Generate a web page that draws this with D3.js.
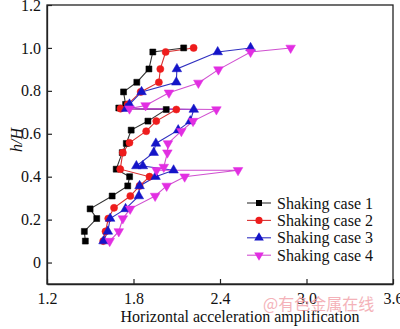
<!DOCTYPE html>
<html><head><meta charset="utf-8">
<script src="https://cdn.jsdelivr.net/npm/d3@7"></script>
<style>body{margin:0;background:#fff}svg{display:block}</style>
</head><body>
<svg id="c" width="400" height="329"></svg>
<script>
const seriesNames = ["Shaking case 1","Shaking case 2","Shaking case 3","Shaking case 4"];
const h1 = [1.0,0.981,0.902,0.84,0.795,0.737,0.72,0.713,0.659,0.617,0.555,0.512,0.435,0.40,0.357,0.31,0.25,0.205,0.145,0.10];
const x1 = [2.148,1.934,1.907,1.823,1.731,1.745,1.698,2.027,1.900,1.784,1.75,1.722,1.68,1.773,1.76,1.652,1.499,1.545,1.459,1.466];
const h2 = [1.0,0.981,0.902,0.84,0.795,0.737,0.717,0.713,0.659,0.612,0.558,0.512,0.435,0.40,0.357,0.31,0.255,0.205,0.145,0.10];
const x2 = [2.217,2.023,1.986,1.976,1.85,1.76,1.71,2.097,1.958,1.888,1.772,1.726,1.708,1.911,1.842,1.778,1.665,1.625,1.606,1.59];
const h3 = [1.0,0.981,0.902,0.84,0.795,0.737,0.717,0.713,0.659,0.617,0.555,0.512,0.45,0.45,0.43,0.40,0.357,0.31,0.25,0.205,0.145,0.10];
const x3 = [2.612,2.384,2.101,2.097,1.856,1.772,1.749,2.218,2.194,2.11,1.955,1.94,1.82,1.865,2.078,1.953,1.842,1.837,1.745,1.638,1.622,1.592];
const h4 = [1.0,0.981,0.899,0.837,0.791,0.732,0.717,0.713,0.659,0.612,0.555,0.512,0.445,0.43,0.43,0.40,0.357,0.31,0.25,0.205,0.145,0.10];
const x4 = [2.89,2.612,2.389,2.25,2.046,1.884,1.772,2.375,2.213,2.132,2.039,2.035,2.01,1.96,2.525,2.155,2.03,1.95,1.777,1.726,1.698,1.635];
const xTicks = [1.2,1.8,2.4,3.0,3.6];
const yTicks = [0,0.2,0.4,0.6,0.8,1.0,1.2];
const xTitle = "Horizontal acceleration amplification";
const watermark = "@有色金属在线";

const colors = ["#000000","#ee1c1c","#1414c8","#e22ee2"];
const lineColors = ["#333333","#d83030","#3030c0","#d050d0"];
const symbols = [d3.symbolSquare, d3.symbolCircle, d3.symbolTriangle, d3.symbolTriangle];
const symSize = [36, 40, 40, 40];
const rot = [0,0,0,180];

const L=47, R=393, T=5, B=284;
const x = d3.scaleLinear().domain([1.2,3.6]).range([L,R]);
const y = d3.scaleLinear().domain([-0.1,1.2]).range([B,T]);

const svg = d3.select("#c");
const font = "'Liberation Serif','Times New Roman',serif";

const data = [[x1,h1],[x2,h2],[x3,h3],[x4,h4]].map(([xs,hs]) => xs.map((v,i)=>({x:v,h:hs[i]})));

svg.append("rect").attr("x",L).attr("y",T).attr("width",R-L).attr("height",B-T)
  .attr("fill","none").attr("stroke","#222").attr("stroke-width",1.3);

const gx = svg.append("g").attr("transform",`translate(0,${B})`)
  .call(d3.axisBottom(x).tickValues(xTicks).tickFormat(d=>d.toFixed(1)).tickSizeInner(-5).tickSizeOuter(0).tickPadding(9));
const gy = svg.append("g").attr("transform",`translate(${L},0)`)
  .call(d3.axisLeft(y).tickValues(yTicks).tickFormat(d=>d===0?"0":d.toFixed(1)).tickSizeInner(-5).tickSizeOuter(0).tickPadding(6));
[gx,gy].forEach(g=>{
  g.attr("font-family",font);
  g.select(".domain").attr("stroke","#222").attr("stroke-width",1.3);
  g.selectAll(".tick line").attr("stroke","#222").attr("stroke-width",1.2);
  g.selectAll(".tick text").attr("font-family",font).attr("font-size",16).attr("fill","#111");
});

svg.append("text").attr("x",240).attr("y",322).attr("text-anchor","middle")
  .attr("font-family",font).attr("font-size",16).attr("fill","#111").text(xTitle);
svg.append("text").attr("transform","translate(22,140) rotate(-90)").attr("text-anchor","middle")
  .attr("font-family",font).attr("font-size",16).attr("font-style","italic").attr("fill","#111").text("h/H");

const line = d3.line().x(d=>x(d.x)).y(d=>y(d.h));
data.forEach((s,i)=>{
  svg.append("path").datum(s).attr("d",line).attr("fill","none")
    .attr("stroke",lineColors[i]).attr("stroke-width",1.1);
});
data.forEach((s,i)=>{
  svg.append("g").selectAll("path").data(s).join("path")
    .attr("d",d3.symbol().type(symbols[i]).size(symSize[i]))
    .attr("transform",d=>`translate(${x(d.x)},${y(d.h)}) rotate(${rot[i]})`)
    .attr("fill",colors[i]).attr("stroke",colors[i]).attr("stroke-width",0.5);
});

const lg = svg.append("g");
seriesNames.forEach((n,i)=>{
  const yy = 203 + i*17.4;
  lg.append("line").attr("x1",247).attr("x2",271).attr("y1",yy).attr("y2",yy)
    .attr("stroke",lineColors[i]).attr("stroke-width",1.1);
  lg.append("path").attr("d",d3.symbol().type(symbols[i]).size(symSize[i]))
    .attr("transform",`translate(259,${yy}) rotate(${rot[i]})`).attr("fill",colors[i]);
  lg.append("text").attr("x",277).attr("y",yy+5.5).attr("font-family",font).attr("font-size",16)
    .attr("fill","#111").text(n);
});

svg.append("text").attr("x",263).attr("y",310).attr("font-family","'Noto Sans CJK SC',sans-serif")
  .attr("font-size",16).attr("fill","#f2a0a8").attr("opacity",0.8).text(watermark);
</script>
</body></html>
